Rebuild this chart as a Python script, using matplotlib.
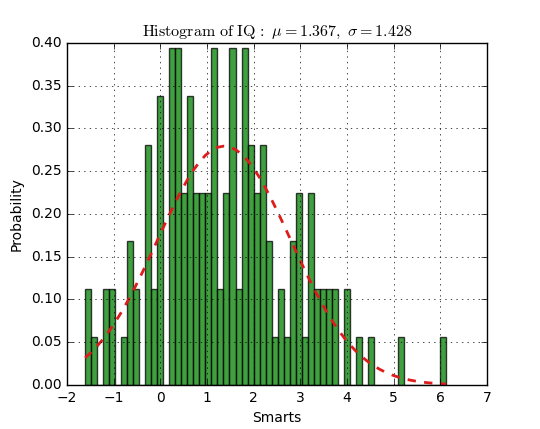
import numpy as np
import matplotlib
matplotlib.use("Agg")
import matplotlib.pyplot as plt

# fitted parameters shown in the title
mu = 1.367
sigma = 1.428

# histogram: 60 equal bins between these limits, counts
x_lo = -1.61
x_hi = 6.12
n_bins = 60
counts = [2, 1, 0, 2, 2, 0, 1, 3, 2, 0,
          5, 2, 6, 0, 7, 7, 4, 6, 4, 4,
          4, 7, 2, 4, 7, 2, 7, 5, 4, 5,
          3, 1, 2, 1, 3, 4, 1, 4, 2, 2,
          2, 2, 0, 2, 0, 1, 0, 1, 0, 0,
          0, 0, 1, 0, 0, 0, 0, 0, 0, 1]

plt.style.use('classic')
plt.rcParams['font.size'] = 10
plt.rcParams['mathtext.fontset'] = 'cm'

bins = np.linspace(x_lo, x_hi, n_bins + 1)
centers = 0.5 * (bins[:-1] + bins[1:])

fig = plt.figure(figsize=(5.4, 4.29), dpi=100)
ax = fig.add_axes([0.124, 0.1026, 0.778, 0.7972])

ax.hist(centers, bins=bins, weights=counts, density=True,
        facecolor='green', alpha=0.75, edgecolor='black', linewidth=1)

# normal pdf at the bin edges, as in the fitted overlay
y = np.exp(-0.5 * ((bins - mu) / sigma) ** 2) / (sigma * np.sqrt(2 * np.pi))
ax.plot(bins, y, '--', color='#dd1c1c', linewidth=2)

ax.set_xlim(-2, 7)
ax.set_ylim(0, 0.40)
ax.set_yticks(np.arange(0, 0.41, 0.05))
ax.yaxis.set_major_formatter(matplotlib.ticker.FormatStrFormatter('%.2f'))
ax.set_xlabel('Smarts')
ax.set_ylabel('Probability')
ax.set_title(r'$\mathrm{Histogram\ of\ IQ}\,:\ \mu=%.3f,\ \sigma=%.3f$' % (mu, sigma),
             fontsize=11.5)
ax.grid(True)

fig.savefig('out.png', dpi=100)
